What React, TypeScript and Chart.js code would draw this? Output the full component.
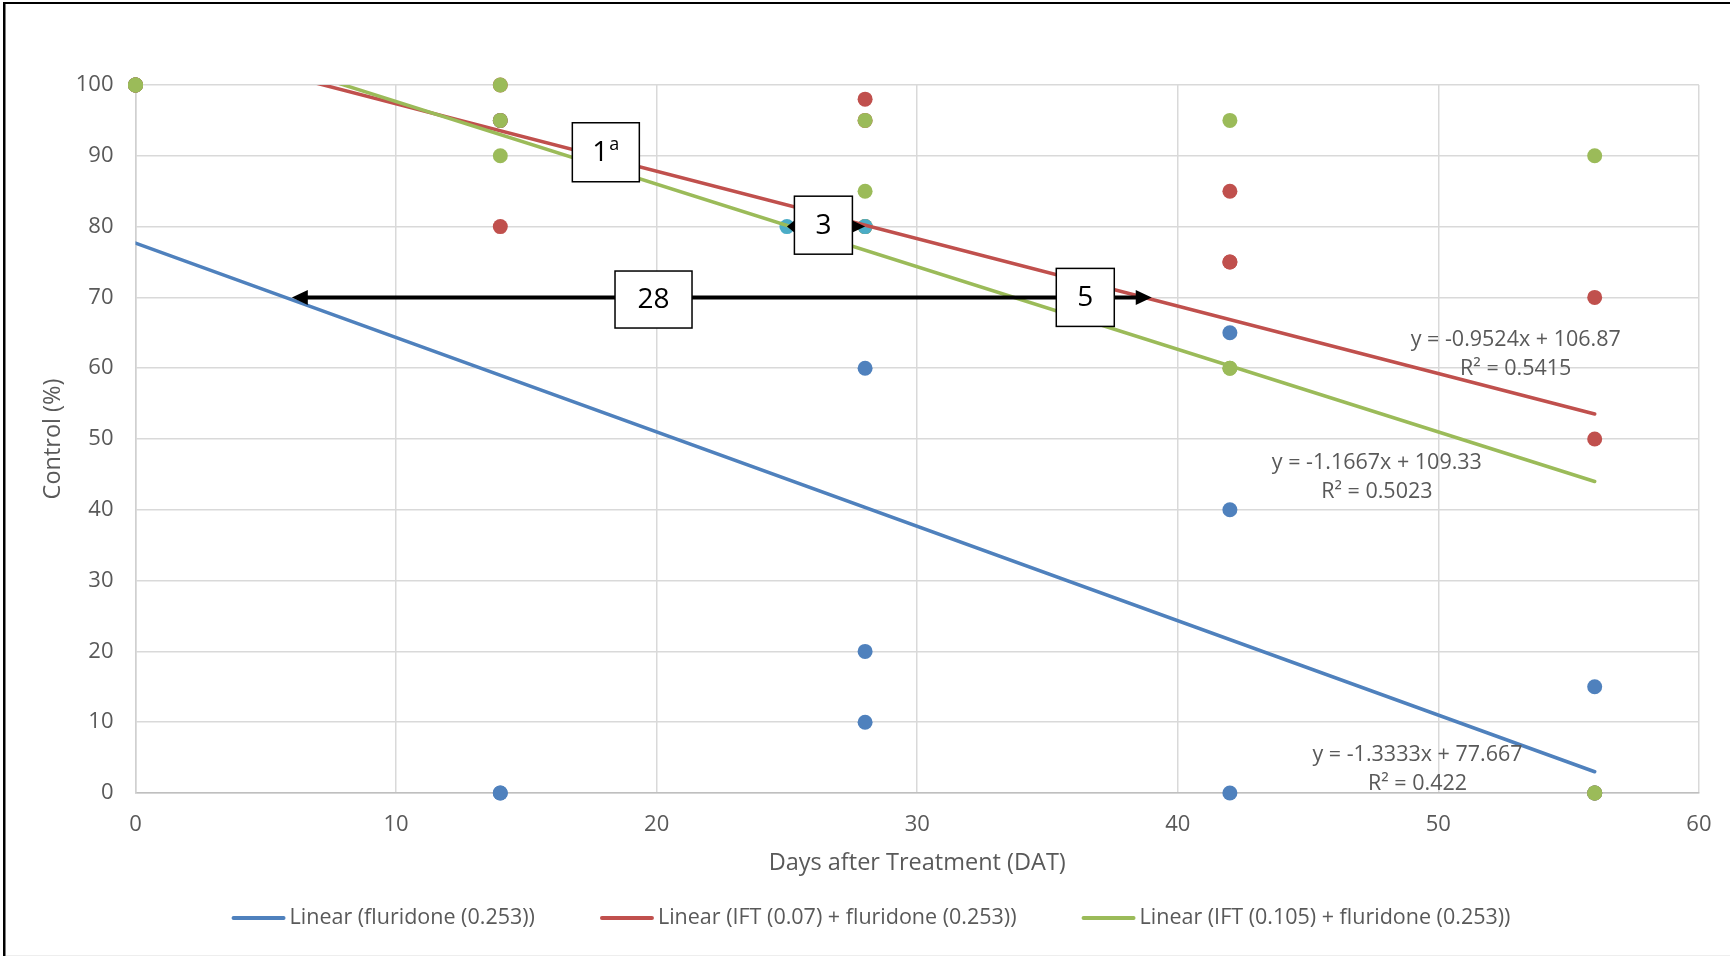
import React, { useEffect, useRef } from "react";
import { Chart, registerables } from "chart.js";

Chart.register(...registerables);

const FONT = "'Open Sans', 'Noto Sans', sans-serif";

// ---- data ----
const dayValues = [0, 0, 0, 14, 14, 14, 28, 28, 28, 42, 42, 42, 56, 56, 56];
const fluridoneControl = [100, 100, 100, 95, 0, 0, 60, 20, 10, 65, 40, 0, 15, 0, 0];
const ift007Control = [100, 100, 100, 100, 95, 80, 98, 95, 80, 85, 75, 75, 70, 50, 0];
const ift0105Control = [100, 100, 100, 100, 95, 90, 95, 85, 80, 95, 60, 60, 90, 0, 0];
const markerDays = [25, 28];
const markerControl = [80, 80];

const seriesNames = [
  "fluridone (0.253)",
  "IFT (0.07) + fluridone (0.253)",
  "IFT (0.105) + fluridone (0.253)",
];
const legendLabels = seriesNames.map((n) => `Linear (${n})`);

const trendDays = [0, 56];
const fluridoneTrend = [77.667, 3.0];
const ift007Trend = [106.87, 53.54];
const ift0105Trend = [109.33, 44.0];

const equationTexts = ["y = -1.3333x + 77.667", "y = -0.9524x + 106.87", "y = -1.1667x + 109.33"];
const rSquaredTexts = ["R² = 0.422", "R² = 0.5415", "R² = 0.5023"];
const equationDays = [49.2, 52.97, 47.64];
const equationControl = [5.37, 64.0, 46.6];

const xTickValues = [0, 10, 20, 30, 40, 50, 60];
const yTickValues = [0, 10, 20, 30, 40, 50, 60, 70, 80, 90, 100];

const calloutTexts = ["1", "3", "28", "5"];
const calloutSup = ["a", "", "", ""];
const calloutDays = [18.05, 26.4, 19.88, 36.45];
const calloutControl = [90.5, 80.2, 69.7, 70];

const longArrowDays = [6.0, 39.0];
const longArrowControl = 70;

// ---- styles ----
const BLUE = "#4F81BD";
const RED = "#C0504D";
const GREEN = "#9BBB59";
const AQUA = "#4BACC6";
const seriesColors = [BLUE, RED, GREEN];
const calloutSizes = [
  [67, 59],
  [58, 58],
  [77, 57],
  [58, 58],
];
const TICK_SIZE = 22;
const TITLE_SIZE = 23.5;

const pts = (xs: number[], ys: number[]) => xs.map((x, i) => ({ x, y: ys[i] }));

function arrowHead(ctx: CanvasRenderingContext2D, tipX: number, y: number, dir: number, len: number, half: number) {
  ctx.beginPath();
  ctx.moveTo(tipX, y);
  ctx.lineTo(tipX - dir * len, y - half);
  ctx.lineTo(tipX - dir * len, y + half);
  ctx.closePath();
  ctx.fill();
}

const overlayPlugin = {
  id: "overlay",
  afterDatasetsDraw(chart: any) {
    const ctx: CanvasRenderingContext2D = chart.ctx;
    const xs = chart.scales.x;
    const ys = chart.scales.y;
    ctx.save();
    ctx.fillStyle = "#000";
    ctx.strokeStyle = "#000";
    // long arrow
    const ay = ys.getPixelForValue(longArrowControl);
    const lx = xs.getPixelForValue(longArrowDays[0]);
    const rx = xs.getPixelForValue(longArrowDays[1]);
    ctx.lineWidth = 4;
    ctx.beginPath();
    ctx.moveTo(lx + 14, ay);
    ctx.lineTo(rx - 14, ay);
    ctx.stroke();
    arrowHead(ctx, lx, ay, -1, 16, 7.5);
    arrowHead(ctx, rx, ay, 1, 16, 7.5);

    // box geometry
    const boxes = calloutTexts.map((t, i) => {
      const cx = xs.getPixelForValue(calloutDays[i]);
      const cy = ys.getPixelForValue(calloutControl[i]);
      const [w, h] = calloutSizes[i];
      return { cx, cy, w, h };
    });

    // small arrows from box "3"
    const b3 = boxes[1];
    const sy = ys.getPixelForValue(markerControl[0]);
    const t1 = xs.getPixelForValue(markerDays[0]);
    const t2 = xs.getPixelForValue(markerDays[1]);
    const leftEdge = b3.cx - b3.w / 2;
    const rightEdge = b3.cx + b3.w / 2;
    arrowHead(ctx, t1, sy, -1, Math.max(4, leftEdge - t1), 6);
    arrowHead(ctx, t2, sy, 1, Math.max(4, t2 - rightEdge), 6);

    // boxes
    boxes.forEach((b, i) => {
      ctx.fillStyle = "#fff";
      ctx.fillRect(b.cx - b.w / 2, b.cy - b.h / 2, b.w, b.h);
      ctx.lineWidth = 1.5;
      ctx.strokeStyle = "#000";
      ctx.strokeRect(b.cx - b.w / 2, b.cy - b.h / 2, b.w, b.h);
      ctx.fillStyle = "#000";
      ctx.textBaseline = "middle";
      ctx.font = `28px ${FONT}`;
      const main = calloutTexts[i];
      const sup = calloutSup[i];
      const mw = ctx.measureText(main).width;
      ctx.font = `18px ${FONT}`;
      const sw = sup ? ctx.measureText(sup).width + 1 : 0;
      const startX = b.cx - (mw + sw) / 2;
      ctx.textAlign = "left";
      ctx.font = `28px ${FONT}`;
      ctx.fillText(main, startX, b.cy + 1);
      if (sup) {
        ctx.font = `18px ${FONT}`;
        ctx.fillText(sup, startX + mw + 1, b.cy - 7);
      }
    });
    ctx.restore();
  },
  afterDraw(chart: any) {
    const ctx: CanvasRenderingContext2D = chart.ctx;
    const xs = chart.scales.x;
    const ys = chart.scales.y;
    ctx.save();
    // equation labels
    ctx.fillStyle = "#595959";
    ctx.font = `21.5px ${FONT}`;
    ctx.textAlign = "center";
    ctx.textBaseline = "middle";
    equationTexts.forEach((t, i) => {
      const x = xs.getPixelForValue(equationDays[i]);
      const y = ys.getPixelForValue(equationControl[i]);
      ctx.fillText(t, x, y);
      ctx.fillText(rSquaredTexts[i], x, y + 28.5);
    });

    // legend
    ctx.font = `21.5px ${FONT}`;
    ctx.textAlign = "left";
    const sample = 54;
    const gap = 4;
    const itemGap = 65;
    const widths = legendLabels.map((l) => ctx.measureText(l).width);
    const total = widths.reduce((a, w) => a + sample + gap + w, 0) + itemGap * (legendLabels.length - 1);
    let x = 871 - total / 2;
    const ly = 918;
    legendLabels.forEach((l, i) => {
      ctx.strokeStyle = seriesColors[i];
      ctx.lineWidth = 4;
      ctx.lineCap = "round";
      ctx.beginPath();
      ctx.moveTo(x + 2, ly);
      ctx.lineTo(x + sample - 2, ly);
      ctx.stroke();
      ctx.fillStyle = "#595959";
      ctx.fillText(l, x + sample + gap, ly);
      x += sample + gap + widths[i] + itemGap;
    });

    // frame
    ctx.lineCap = "butt";
    ctx.strokeStyle = "#000";
    ctx.lineWidth = 2;
    ctx.beginPath();
    ctx.moveTo(3, 3);
    ctx.lineTo(1730, 3);
    ctx.stroke();
    ctx.lineWidth = 2.5;
    ctx.beginPath();
    ctx.moveTo(4.25, 3);
    ctx.lineTo(4.25, 956);
    ctx.stroke();
    ctx.strokeStyle = "#eeeeee";
    ctx.lineWidth = 1;
    ctx.beginPath();
    ctx.moveTo(6, 955.5);
    ctx.lineTo(1730, 955.5);
    ctx.stroke();
    ctx.restore();
  },
};

export default function App() {
  const ref = useRef<HTMLCanvasElement | null>(null);
  useEffect(() => {
    document.body.style.margin = "0";
    const canvas = ref.current;
    if (!canvas) return;
    const pointDs = (label: string, xsv: number[], ysv: number[], color: string, order: number) => ({
      label,
      data: pts(xsv, ysv),
      backgroundColor: color,
      borderColor: color,
      pointRadius: 7.5,
      pointHoverRadius: 7.5,
      pointBorderWidth: 0,
      showLine: false,
      order,
      clip: false,
    });
    const trendDs = (label: string, ysv: number[], color: string, order: number) => ({
      label,
      data: pts(trendDays, ysv),
      borderColor: color,
      backgroundColor: color,
      borderWidth: 3.5,
      borderCapStyle: "round",
      pointRadius: 0,
      pointHoverRadius: 0,
      showLine: true,
      order,
    });
    const chart = new Chart(canvas, {
      type: "scatter",
      data: {
        datasets: [
          trendDs(legendLabels[0], fluridoneTrend, BLUE, 3),
          trendDs(legendLabels[1], ift007Trend, RED, 2),
          trendDs(legendLabels[2], ift0105Trend, GREEN, 1),
          pointDs(seriesNames[0], dayValues, fluridoneControl, BLUE, 7),
          pointDs(seriesNames[1], dayValues, ift007Control, RED, 6),
          pointDs(seriesNames[2], dayValues, ift0105Control, GREEN, 5),
          pointDs("marker", markerDays, markerControl, AQUA, 4),
        ] as any,
      },
      options: {
        animation: false,
        responsive: false,
        devicePixelRatio: 1,
        events: [],
        layout: { padding: { left: 0, top: 85, right: 28, bottom: 0 } },
        plugins: {
          legend: { display: false },
          tooltip: { enabled: false },
        },
        scales: {
          x: {
            type: "linear",
            min: 0,
            max: 60,
            afterBuildTicks: (s: any) => {
              s.ticks = xTickValues.map((v) => ({ value: v }));
            },
            ticks: {
              color: "#595959",
              font: { family: FONT, size: TICK_SIZE },
              padding: 18.5,
              maxRotation: 0,
            },
            grid: { color: "#d9d9d9", lineWidth: 1.5, drawTicks: false },
            border: { color: "#bfbfbf", width: 1.5 },
            title: {
              display: true,
              text: "Days after Treatment (DAT)",
              color: "#595959",
              font: { family: FONT, size: TITLE_SIZE },
              padding: { top: 0, bottom: 93 - (TITLE_SIZE * 1.2) / 2 },
            },
            afterFit: (s: any) => {
              s.height = 163;
            },
          },
          y: {
            type: "linear",
            min: 0,
            max: 100,
            afterBuildTicks: (s: any) => {
              s.ticks = yTickValues.map((v) => ({ value: v }));
            },
            ticks: {
              color: "#595959",
              font: { family: FONT, size: TICK_SIZE },
              padding: 22,
            },
            grid: { color: "#d9d9d9", lineWidth: 1.5, drawTicks: false },
            border: { color: "#d0d0d0", width: 1.5 },
            title: {
              display: true,
              text: "Control (%)",
              color: "#595959",
              font: { family: FONT, size: TITLE_SIZE },
              padding: { top: 53 - (TITLE_SIZE * 1.2) / 2, bottom: 0 },
            },
            afterFit: (s: any) => {
              s.width = 135.5;
            },
          },
        },
      } as any,
      plugins: [overlayPlugin],
    });
    return () => chart.destroy();
  }, []);
  return (
    <div style={{ width: 1730, height: 956, overflow: "hidden" }}>
      <canvas ref={ref} width={1730} height={956} style={{ display: "block", width: 1730, height: 956 }} />
    </div>
  );
}
